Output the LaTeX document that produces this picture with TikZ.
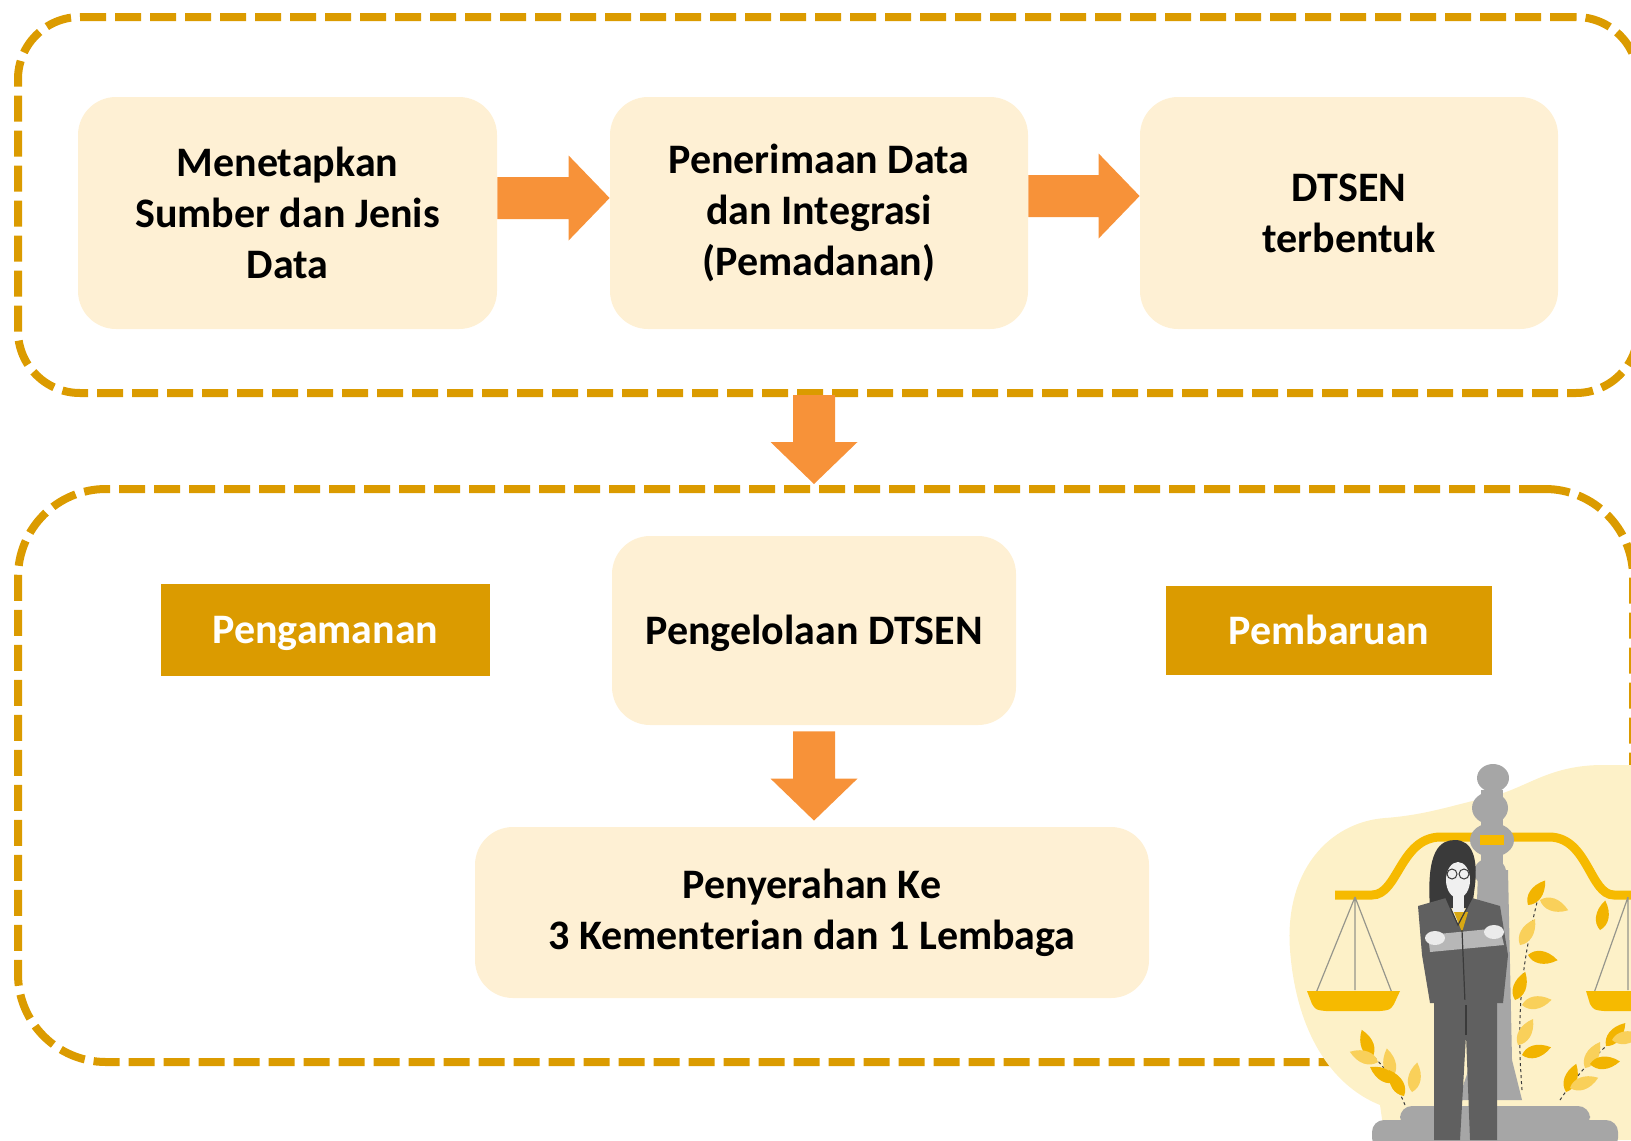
\documentclass[tikz,border=0pt]{standalone}
\usepackage{fontspec}
\setmainfont{Carlito}
\usetikzlibrary{calc}

\definecolor{gold}{RGB}{219,155,0}
\definecolor{cream}{RGB}{254,240,212}
\definecolor{arrowfill}{RGB}{247,146,57}
\definecolor{blobcream}{RGB}{253,241,200}
\definecolor{beam}{RGB}{246,186,0}
\definecolor{leafdark}{RGB}{242,180,0}
\definecolor{leaflight}{RGB}{249,208,90}
\definecolor{pillar}{RGB}{166,166,166}
\definecolor{suit}{RGB}{96,96,96}
\definecolor{suitdark}{RGB}{58,58,58}
\definecolor{string}{RGB}{150,150,140}

\newcommand\labelfont{\fontsize{21}{25.5}\selectfont\bfseries}

\tikzset{
  frame/.style={draw=gold, line width=4pt, dash pattern=on 13pt off 4.5pt, outer sep=0pt},
  stepbox/.style={rectangle, rounded corners=19pt, fill=cream, align=center,
    font=\labelfont, inner sep=0pt},
  oneline/.style={text height=13.5pt, text depth=0pt},
  tagbox/.style={rectangle, fill=gold, text=white, font=\labelfont, inner sep=0pt, oneline},
  blockarrow/.style={fill=arrowfill},
  leafa/.pic={\fill[leafdark, scale=1.5] (0,0) .. controls (2pt,2.6pt) and (6pt,3pt) .. (10pt,0)
      .. controls (6pt,-3pt) and (2pt,-2.6pt) .. (0,0);},
  leafb/.pic={\fill[leaflight, scale=1.5] (0,0) .. controls (2pt,2.6pt) and (6pt,3pt) .. (10pt,0)
      .. controls (6pt,-3pt) and (2pt,-2.6pt) .. (0,0);},
}

% horizontal block arrow from #1 to #2 (tip at #2)
\newcommand\rightblock[2]{%
  \fill[blockarrow] let \p1=(#1), \p2=(#2) in
    (\x1,\y1+10.5pt) -- (\x2-20.5pt,\y1+10.5pt) -- (\x2-20.5pt,\y1+21.25pt)
    -- (\x2,\y1) -- (\x2-20.5pt,\y1-21.25pt) -- (\x2-20.5pt,\y1-10.5pt)
    -- (\x1,\y1-10.5pt) -- cycle;}
% vertical block arrow from #1 down to #2 (tip at #2)
\newcommand\downblock[2]{%
  \fill[blockarrow] let \p1=(#1), \p2=(#2) in
    (\x1-10.5pt,\y1) -- (\x1-10.5pt,\y2+21pt) -- (\x1-21.75pt,\y2+21pt)
    -- (\x1,\y2) -- (\x1+21.75pt,\y2+21pt) -- (\x1+10.5pt,\y2+21pt)
    -- (\x1+10.5pt,\y1) -- cycle;}

\begin{document}
\begin{tikzpicture}[x=0.5pt, y=-0.5pt]
\useasboundingbox (0,0) rectangle (1631,1140);
\begin{scope}
\clip (0,0) rectangle (1631,1140);

% dashed frames of the two stages
\node[frame, rounded corners=31pt, minimum width=810pt, minimum height=188pt]
  (stage1) at (828,205) {};
\node[frame, rounded corners=44pt, minimum width=807.5pt, minimum height=286.5pt]
  (stage2) at (825.5,775.5) {};

% stage 1
\node[stepbox, minimum width=209.5pt, minimum height=116pt] (src) at (287.5,213)
  {Menetapkan\\Sumber dan Jenis\\Data};
\node[stepbox, minimum width=209pt, minimum height=116pt] (intg) at (819,213)
  {Penerimaan Data\\dan Integrasi\\(Pemadanan)};
\node[stepbox, minimum width=209pt, minimum height=116pt] (dtsen) at (1349,213)
  {DTSEN\\terbentuk};

\rightblock{$(src.east)+(0,-15)$}{$(intg.west)+(0,-15)$}
\rightblock{$(intg.east)+(0,-17)$}{$(dtsen.west)+(0,-17)$}

% stage 2
\node[tagbox, minimum width=164.5pt, minimum height=46pt] (aman) at (325.5,630) {Pengamanan};
\node[stepbox, oneline, minimum width=202pt, minimum height=94.5pt] (kelola) at (814,630.5)
  {Pengelolaan DTSEN};
\node[tagbox, minimum width=163pt, minimum height=44.5pt] (baru) at (1329,630.5) {Pembaruan};
\node[stepbox, minimum width=337pt, minimum height=85.5pt] (serah) at (812,912.5)
  {Penyerahan Ke\\3 Kementerian dan 1 Lembaga};

\downblock{$(stage1.south -| kelola.north)+(0,2)$}{$(stage2.north -| kelola.north)+(0,-5)$}
\downblock{$(kelola.south)+(0,6)$}{$(serah.north)+(0,-6)$}

% illustration: figure with scales of justice
\fill[blobcream] (1290,950) .. controls (1284,870) and (1330,822) .. (1385,818)
  .. controls (1425,815) and (1450,806) .. (1485,798)
  .. controls (1525,790) and (1545,766) .. (1600,765) -- (1640,765) -- (1640,1140)
  -- (1385,1140) -- (1380,1105) .. controls (1330,1085) and (1296,1030) .. cycle;

% beam and pans
\draw[beam, line width=4.5pt] (1335,895) -- (1372,895)
  .. controls (1398,895) and (1400,838) .. (1440,837) -- (1550,837)
  .. controls (1588,838) and (1590,895) .. (1614,895) -- (1645,895);
\draw[string, line width=0.6pt] (1355,897) -- (1316,993) (1355,897) -- (1392,993)
  (1355,897) -- (1355,990);
\draw[string, line width=0.6pt] (1628,897) -- (1594,993) (1628,897) -- (1628,990);
\fill[beam] (1307,991) -- (1400,991) -- (1394,1004) .. controls (1390,1010) .. (1380,1011)
  -- (1326,1011) .. controls (1316,1010) .. (1312,1004) -- cycle;
\fill[beam] (1586,991) -- (1640,991) -- (1640,1011) -- (1604,1011)
  .. controls (1594,1010) .. (1590,1004) -- cycle;

% pillar
\fill[pillar] (1493,778) ellipse [x radius=8pt, y radius=7pt];
\fill[pillar] (1490,808) ellipse [x radius=9pt, y radius=8pt];
\fill[pillar] (1492,840) ellipse [x radius=11pt, y radius=8.5pt];
\fill[pillar] (1490,872) ellipse [x radius=8pt, y radius=7pt];
\fill[pillar] (1481,790) rectangle (1503,880);
\fill[pillar] (1478,870) -- (1508,870) -- (1512,1060) -- (1522,1100) -- (1458,1100)
  -- (1472,1060) -- cycle;
\fill[beam] (1480,835) rectangle (1504,845);
\fill[pillar, rounded corners=6pt] (1400,1106) rectangle (1590,1128);
\fill[pillar, rounded corners=6pt] (1372,1120) rectangle (1618,1150);

% plants
\draw[suitdark, line width=0.5pt, dash pattern=on 1.5pt off 1.5pt]
  (1522,1090) .. controls (1515,1000) and (1525,950) .. (1540,890);
\pic[rotate=55] at (1528,905) {leafa};
\pic[rotate=-20] at (1540,900) {leafb};
\pic[rotate=60] at (1520,945) {leafb};
\pic[rotate=-10] at (1528,955) {leafa};
\pic[rotate=70] at (1515,1000) {leafa};
\pic[rotate=10] at (1522,1005) {leafb};
\pic[rotate=60] at (1518,1045) {leafb};
\pic[rotate=15] at (1522,1055) {leafa};
\draw[suitdark, line width=0.5pt, dash pattern=on 1.5pt off 1.5pt]
  (1405,1105) .. controls (1395,1080) and (1380,1060) .. (1365,1050);
\pic[rotate=110] at (1372,1058) {leafa};
\pic[rotate=160] at (1378,1062) {leafb};
\pic[rotate=100] at (1392,1078) {leafb};
\pic[rotate=150] at (1396,1082) {leafa};
\pic[rotate=120] at (1404,1096) {leafa};
\pic[rotate=80] at (1412,1092) {leafb};
\draw[suitdark, line width=0.5pt, dash pattern=on 1.5pt off 1.5pt]
  (1560,1100) .. controls (1580,1070) and (1600,1050) .. (1625,1030);
\pic[rotate=50] at (1606,1046) {leafa};
\pic[rotate=10] at (1612,1040) {leafb};
\pic[rotate=60] at (1585,1068) {leafb};
\pic[rotate=5] at (1590,1064) {leafa};
\pic[rotate=70] at (1566,1092) {leafa};
\pic[rotate=20] at (1570,1088) {leafb};
\pic[rotate=80] at (1600,930) {leafa};

% figure
\fill[suitdark] (1430,908) .. controls (1426,850) and (1440,840) .. (1455,840)
  .. controls (1472,840) and (1478,858) .. (1475,885) -- (1472,908) -- cycle;
\fill[white!94!black] (1458,880) ellipse [x radius=6pt, y radius=9pt];
\fill[suitdark] (1446,862) .. controls (1455,858) and (1465,860) .. (1470,868) -- (1470,860)
  .. controls (1462,852) and (1450,852) .. (1446,856) -- cycle;
\draw[suitdark, line width=0.5pt] (1452,874) circle [radius=2.5pt] (1464,874) circle [radius=2.5pt];
\fill[white!94!black] (1453,893) rectangle (1464,912);
\fill[suit] (1418,906) -- (1446,898) -- (1458,925) -- (1472,898) -- (1500,906)
  -- (1508,955) -- (1503,1003) -- (1430,1003) -- (1422,955) -- cycle;
\fill[beam!80!suit] (1454,912) -- (1462,932) -- (1468,912) -- cycle;
\fill[white!55!suit] (1428,935) -- (1500,928) -- (1504,945) -- (1430,952) -- cycle;
\fill[white!92!black] (1435,938) ellipse [x radius=5pt, y radius=3.5pt];
\fill[white!92!black] (1494,932) ellipse [x radius=5pt, y radius=3.5pt];
\draw[suitdark, line width=0.6pt] (1446,898) -- (1458,925) -- (1472,898)
  (1462,930) -- (1465,1003);
\fill[suit] (1434,1000) -- (1497,1000) -- (1497,1140) -- (1470,1140) -- (1466,1035)
  -- (1460,1140) -- (1434,1140) -- cycle;
\draw[suitdark, line width=0.6pt] (1466,1035) -- (1466,1005);
\end{scope}
\end{tikzpicture}
\end{document}
